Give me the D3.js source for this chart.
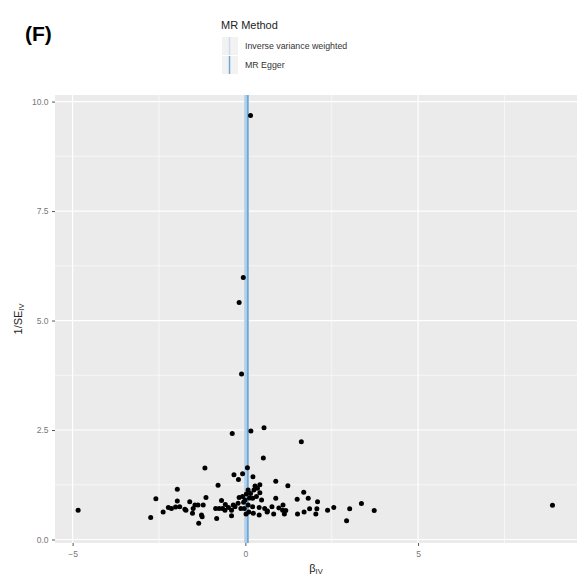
<!DOCTYPE html>
<html><head><meta charset="utf-8">
<script src="https://cdn.jsdelivr.net/npm/d3@7"></script>
<style>body{margin:0;background:#fff}svg{display:block}</style>
</head><body>
<script>
// Data: SNP-level estimates (beta_IV, 1/SE_IV)
const betaIV = [0.15,-0.06,-0.18,-0.11,-0.38,0.16,0.54,1.62,0.52,-1.17,0.06,-0.33,-0.08,-0.20,0.22,0.88,-0.79,1.23,0.42,1.69,1.82,1.50,2.09,2.07,2.04,2.38,2.56,3.02,3.36,3.73,2.93,1.86,1.70,1.51,1.17,1.13,1.09,0.97,0.88,0.82,0.77,0.64,0.40,0.40,0.47,0.42,0.32,0.25,0.21,0.35,0.08,0.03,-0.01,-0.08,-0.18,0.08,0.10,-0.03,-0.13,-0.21,-0.30,-0.40,-0.40,-0.49,-0.58,-0.69,-0.66,-0.76,-0.83,-0.86,-1.14,-1.22,-1.27,-1.35,-1.37,-1.46,-1.53,-1.61,-1.72,-1.90,-1.97,-1.97,-2.14,-2.02,-2.23,-2.38,-2.59,-2.74,-4.84,8.89,0.23,0.21,0.56,0.63,0.28,0.15,0.12,-1.25,-0.59,-0.35,1.08,-1.75,-1.51,0.02,-0.05];
const invSE = [9.68,5.98,5.41,3.78,2.42,2.48,2.55,2.23,1.86,1.63,1.64,1.48,1.50,1.37,1.43,1.33,1.24,1.23,1.25,1.08,0.94,0.92,0.86,0.70,0.58,0.67,0.73,0.70,0.82,0.66,0.43,0.70,0.63,0.58,0.66,0.58,0.79,0.72,0.94,0.58,0.75,0.65,0.56,0.73,0.90,1.07,0.98,1.13,0.94,1.17,1.13,1.04,0.90,0.98,0.96,0.79,0.63,0.71,0.71,0.83,0.75,0.54,0.67,0.73,0.80,0.89,0.71,0.71,0.48,0.71,0.96,0.79,0.56,0.37,0.79,0.79,0.60,0.86,0.67,0.75,1.15,0.88,0.71,0.74,0.73,0.63,0.93,0.50,0.67,0.78,0.60,0.75,0.71,0.63,1.22,1.05,0.95,0.52,0.67,0.79,0.67,0.69,0.71,0.58,0.85];
const methods = ["Inverse variance weighted","MR Egger"];
const methodEstimates = [0.03,0.07];
const methodColors = ["#c9dcee","#6fa8d6"];
const xTicks = [-5,0,5];
const yTicks = [0,2.5,5,7.5,10];

const W=580,H=582;
const FONT="Liberation Sans, Arial, sans-serif";
const svg=d3.select("body").append("svg").attr("width",W).attr("height",H);
const L=55,R=577,T=95,B=543;
const x=d3.scaleLinear().domain([-5.51,9.6]).range([L,R]);
const y=d3.scaleLinear().domain([-0.08,10.15]).range([B,T]);

// panel
svg.append("rect").attr("x",L).attr("y",T).attr("width",R-L).attr("height",B-T).attr("fill","#EBEBEB");
const xMinor=[-2.5,2.5,7.5], yMinor=[1.25,3.75,6.25,8.75];
const g=svg.append("g");
xMinor.forEach(v=>g.append("line").attr("x1",x(v)).attr("x2",x(v)).attr("y1",T).attr("y2",B).attr("stroke","#fff").attr("stroke-width",0.6));
yMinor.forEach(v=>g.append("line").attr("y1",y(v)).attr("y2",y(v)).attr("x1",L).attr("x2",R).attr("stroke","#fff").attr("stroke-width",0.6));
xTicks.forEach(v=>g.append("line").attr("x1",x(v)).attr("x2",x(v)).attr("y1",T).attr("y2",B).attr("stroke","#fff").attr("stroke-width",1.2));
yTicks.forEach(v=>g.append("line").attr("y1",y(v)).attr("y2",y(v)).attr("x1",L).attr("x2",R).attr("stroke","#fff").attr("stroke-width",1.2));

// method lines
svg.append("line").attr("x1",x(methodEstimates[0])).attr("x2",x(methodEstimates[0])).attr("y1",T).attr("y2",B).attr("stroke","#b5d1ea").attr("stroke-width",4.5);
svg.append("line").attr("x1",x(methodEstimates[1])).attr("x2",x(methodEstimates[1])).attr("y1",T).attr("y2",B).attr("stroke",methodColors[1]).attr("stroke-width",1.8);

// points
svg.append("g").selectAll("circle").data(betaIV.map((b,i)=>[b,invSE[i]])).join("circle")
  .attr("cx",d=>x(d[0])).attr("cy",d=>y(d[1])).attr("r",2.5).attr("fill","#000");

// axes
const xa=svg.append("g").attr("transform",`translate(0,${B})`).call(d3.axisBottom(x).tickValues(xTicks).tickSize(3).tickFormat(d3.format("d")));
const ya=svg.append("g").attr("transform",`translate(${L},0)`).call(d3.axisLeft(y).tickValues(yTicks).tickSize(3).tickFormat(d3.format(".1f")));
[xa,ya].forEach(a=>{a.select(".domain").remove();a.selectAll("line").attr("stroke","#555");
  a.selectAll("text").attr("fill","#777").attr("font-family",FONT).attr("font-size",8.5);});
xa.selectAll("text").attr("dy","0.9em");
ya.selectAll("text").attr("dx","-0.05em");

// axis titles
const yt=svg.append("text").attr("transform",`translate(22,${(T+B)/2}) rotate(-90)`).attr("text-anchor","middle")
  .attr("font-family",FONT).attr("font-size",11).attr("fill","#222");
yt.append("tspan").text("1/SE");
yt.append("tspan").attr("font-size",7.5).attr("dy",2).text("IV");
const xt=svg.append("text").attr("x",(L+R)/2).attr("y",572).attr("text-anchor","middle")
  .attr("font-family",FONT).attr("font-size",11).attr("fill","#222");
xt.append("tspan").text("β");
xt.append("tspan").attr("font-size",7.5).attr("dy",2).text("IV");

// title
svg.append("text").attr("x",25).attr("y",41).attr("font-family",FONT)
  .attr("font-weight","bold").attr("font-size",21).attr("fill","#000").text("(F)");

// legend
const lg=svg.append("g");
lg.append("text").attr("x",221).attr("y",29).attr("font-family",FONT).attr("font-size",11).attr("fill","#222").text("MR Method");
methods.forEach((m,i)=>{
  const ky=37+i*19;
  lg.append("rect").attr("x",222).attr("y",ky).attr("width",16).attr("height",18).attr("fill","#F2F2F2");
  lg.append("line").attr("x1",229.5).attr("x2",229.5).attr("y1",ky).attr("y2",ky+18).attr("stroke",methodColors[i]).attr("stroke-width",1.5);
  lg.append("text").attr("x",245).attr("y",ky+9).attr("dy","0.35em").attr("font-family",FONT).attr("font-size",8.8).attr("fill","#333").text(m);
});
</script>
</body></html>
